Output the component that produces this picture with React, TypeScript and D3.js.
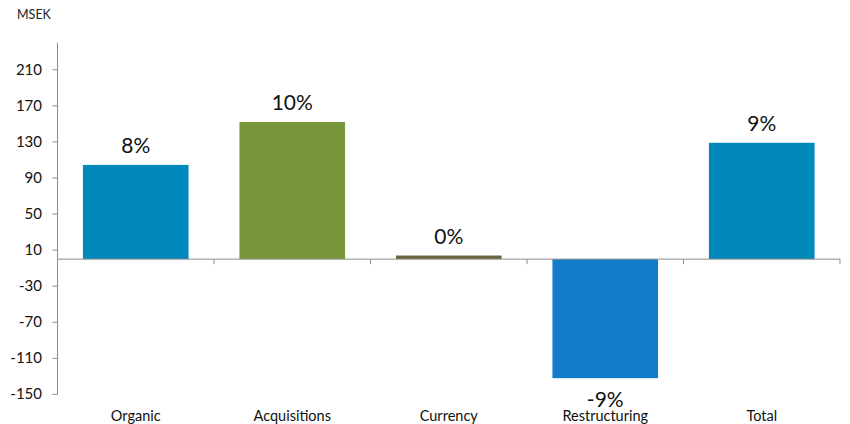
import React from "react";
import * as d3 from "d3";

const categories = ["Organic", "Acquisitions", "Currency", "Restructuring", "Total"];
const values = [104.5, 152, 4, -132, 129];
const labels = ["8%", "10%", "0%", "-9%", "9%"];
const colors = ["#0089BA", "#77963A", "#6F6442", "#127CC8", "#0089BA"];
const yTicks = [-150, -110, -70, -30, 10, 50, 90, 130, 170, 210];

const W = 850;
const H = 424;
const left = 57.5;
const right = 840;
const yTop = 42.7;
const yBottom = 394.4;

export default function App() {
  const x = d3.scaleBand<string>().domain(categories).range([left, right]).paddingInner(0.325).paddingOuter(0.1625);
  const y = d3.scaleLinear().domain([-150, 240]).range([yBottom, yTop]);
  const step = x.step();
  const y0 = y(0);
  const axisColor = "#8C8C8C";
  const font = "Lato, 'Open Sans', sans-serif";
  return (
    <svg width={W} height={H} style={{ position: "absolute", left: 0, top: 0, background: "#fff" }} fontFamily={font}>
      <text x={17} y={19} fontSize={12.5} fill="#222">MSEK</text>
      {categories.map((c, i) => {
        const v = values[i];
        const bx = x(c)!;
        const top = y(Math.max(0, v));
        const bot = y(Math.min(0, v));
        const cx = bx + x.bandwidth() / 2;
        return (
          <g key={c}>
            <rect x={bx} y={top} width={x.bandwidth()} height={Math.max(0, bot - top)} fill={colors[i]} />
            <text x={cx} y={v >= 0 ? top - 12 : bot + 28.5} textAnchor="middle" fontSize={21} fill="#111">{labels[i]}</text>
            <text x={cx} y={421} textAnchor="middle" fontSize={14.5} fill="#111">{c}</text>
          </g>
        );
      })}
      <line x1={left} x2={left} y1={yTop} y2={yBottom} stroke={axisColor} strokeWidth={1} />
      {yTicks.map((t) => (
        <g key={t}>
          <line x1={left - 5} x2={left} y1={y(t)} y2={y(t)} stroke={axisColor} />
          <text x={42} y={y(t) + 5} textAnchor="end" fontSize={15} fill="#111">{t}</text>
        </g>
      ))}
      <line x1={left} x2={right} y1={y0} y2={y0} stroke={axisColor} />
      {d3.range(categories.length + 1).map((k) => (
        <line key={k} x1={left + k * step} x2={left + k * step} y1={y0} y2={y0 + 5} stroke={axisColor} />
      ))}
    </svg>
  );
}
